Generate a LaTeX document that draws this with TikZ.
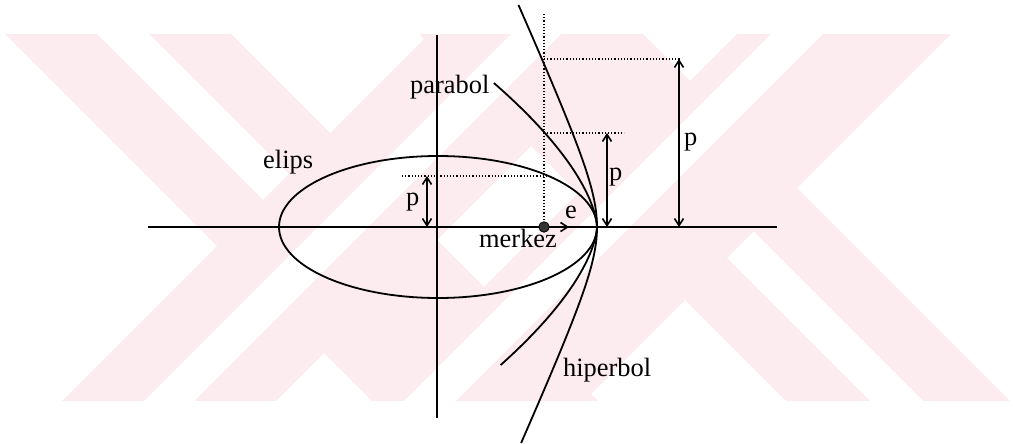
\documentclass[tikz,border=0pt]{standalone}
\usepackage{fontspec}
\setmainfont{Liberation Serif}
\usetikzlibrary{arrows.meta}
\definecolor{wm}{RGB}{252,235,239}
\newcommand\wmback[3]{\fill[#3] ({#1-100},-100) -- ({#2-100},-100) -- ({#2+600},600) -- ({#1+600},600) -- cycle;}
\newcommand\wmfwd[3]{\fill[#3] ({#1+100},-100) -- ({#2+100},-100) -- ({#2-600},600) -- ({#1-600},600) -- cycle;}
\begin{document}
\begin{tikzpicture}[x=1pt,y=-1pt,
  curve/.style={line width=1.8pt, line join=round},
  axis/.style={line width=1.8pt},
  guide/.style={line width=1.2pt, dash pattern=on 1.2pt off 2pt},
  parr/.style={line width=1.6pt, {Straight Barb[length=7pt,width=9pt]}-{Straight Barb[length=7pt,width=9pt]}},
  earr/.style={line width=1.6pt, -{Straight Barb[length=7pt,width=9pt]}},
  lbl/.style={inner sep=0pt, anchor=base west, font=\fontsize{26.4}{30}\selectfont}]
\useasboundingbox (0,0) rectangle (1013,444);
% watermark
\begin{scope}
\clip (0,35) rectangle (1013,400);
\wmback{-29}{197}{wm}
\fill[white] (-37,-100) -- (15,-100) -- (289,174) -- (263,200) -- cycle;
\wmback{385}{609}{wm}
\wmfwd{463}{677}{wm}
\wmfwd{771}{985}{wm}
\fill[white] (727,258) -- (753.5,231.5) -- (1122,600) -- (1069,600) -- cycle;
\wmfwd{545}{595}{white}
\wmfwd{805}{857}{white}
\end{scope}
% coordinates
\coordinate (axL) at (148,227);
\coordinate (axR) at (777,227);
\coordinate (axT) at (437,35);
\coordinate (axB) at (437,418);
\coordinate (C) at (438,227);
\coordinate (dvT) at (544,14);
\coordinate (g1a) at (402,176);
\coordinate (g1b) at (548,176);
\coordinate (g2a) at (544,133);
\coordinate (g2b) at (624,133);
\coordinate (g3a) at (544,59);
\coordinate (g3b) at (680,59);
\coordinate (p1t) at (427,176);
\coordinate (p1b) at (427,227);
\coordinate (p2t) at (607,133);
\coordinate (p2b) at (607,227);
\coordinate (p3t) at (679,59);
\coordinate (p3b) at (679,227);
\coordinate (etip) at (569,227);
% axes
\draw[axis] (axL) -- (axR);
\draw[axis] (axT) -- (axB);
% conics
\draw[curve] (C) ellipse [x radius=159pt, y radius=71pt];
\draw[curve] plot[domain=-144:138, samples=90, variable=\t, smooth]
  ({597-0.0363*(abs(\t)+0.001)^1.6}, {227+\t});
\draw[curve] plot[domain=-222:216, samples=110, variable=\t, smooth]
  ({597-24.3*(sqrt(1+(\t/54)*(\t/54))-1)}, {227+\t});
% guides
\node[circle, fill=black!80, draw=black, line width=0.8pt, inner sep=0pt, minimum size=10.5pt] (merkez) at (544,227) {};
\draw[guide] (dvT) -- (merkez.north);
\draw[guide] (g1a) -- (g1b);
\draw[guide] (g2a) -- (g2b);
\draw[guide] (g3a) -- (g3b);
% arrows
\draw[parr] (p1t) -- (p1b);
\draw[parr] (p2t) -- (p2b);
\draw[parr] (p3t) -- (p3b);
\draw[earr] (merkez.east) -- (etip);
% labels
\node[lbl] (elips) at (263,168) {elips};
\node[lbl] (parabol) at (410,93) {parabol};
\node[lbl] (merkezlbl) at (479,247) {merkez};
\node[lbl] (elbl) at (565,218) {e};
\node[lbl] (hiperbol) at (563,376) {hiperbol};
\node[lbl] (p1) at (406,205) {p};
\node[lbl] (p2) at (609,180) {p};
\node[lbl] (p3) at (684,145) {p};
\end{tikzpicture}
\end{document}
